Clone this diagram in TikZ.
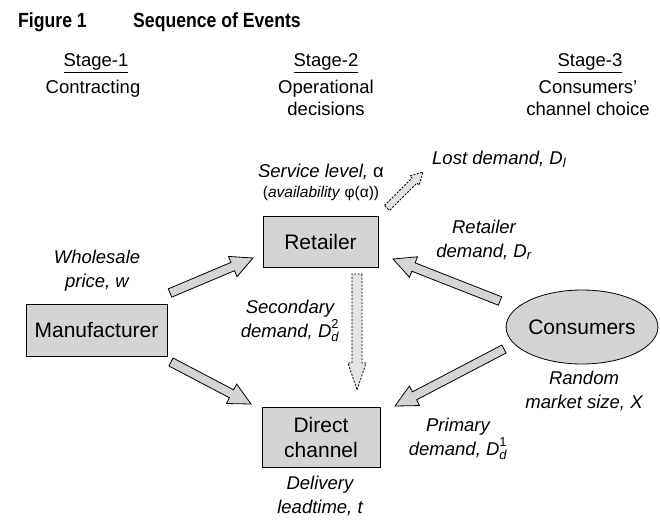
\documentclass[tikz,border=0pt]{standalone}
\usepackage{fontspec}
\usepackage{amsmath}
\setmainfont{Liberation Sans}
\newfontfamily\titlefont[FakeStretch=0.86]{Liberation Sans}
\usetikzlibrary{calc,shapes.geometric}
\definecolor{boxgray}{RGB}{212,212,212}
\definecolor{lightfill}{RGB}{228,228,228}
\newcommand{\blockarrow}[6]{%
  \coordinate (ba-h) at ($(#3)!#6!(#2)$);
  \draw[#1] ($(#2)!#4!90:(#3)$) -- ($(ba-h)!#4!90:(#3)$) -- ($(ba-h)!#5!90:(#3)$)
    -- (#3) -- ($(ba-h)!#5!-90:(#3)$) -- ($(ba-h)!#4!-90:(#3)$) -- ($(#2)!#4!-90:(#3)$) -- cycle;
}
\tikzset{
  box/.style={draw=black, fill=boxgray, line width=0.8pt, inner sep=0pt, align=center,
    font=\fontsize{21}{25}\selectfont},
  lab/.style={font=\fontsize{18.5}{23.5}\selectfont\itshape, align=center, inner sep=0pt},
  hdr/.style={font=\fontsize{18.5}{22.5}\selectfont, align=center, inner sep=0pt},
  solidarrow/.style={draw=black, fill=boxgray, line width=0.8pt, line join=miter},
  dasharrow/.style={draw=black, fill=lightfill, line width=0.8pt, dash pattern=on 2pt off 1.5pt},
}
\begin{document}
\begin{tikzpicture}[x=1pt,y=-1pt]
\useasboundingbox (0,0) rectangle (660,530);
% title
\node[anchor=base west, inner sep=0pt, font=\titlefont\bfseries\fontsize{20.5}{22}\selectfont] (fig) at (18,27) {Figure 1};
\node[anchor=base west, inner sep=0pt, font=\titlefont\bfseries\fontsize{20.5}{22}\selectfont] (title) at (133,27) {Sequence of Events};
% stage headers
\node[hdr, anchor=base] (s1) at (96,66) {\underline{Stage-1}};
\node[hdr, anchor=base] (s1t) at (93,93) {Contracting};
\node[hdr, anchor=base] (s2) at (326,66) {\underline{Stage-2}};
\node[hdr, anchor=base] (s2t) at (326,115.5) {Operational\\decisions};
\node[hdr, anchor=base] (s3) at (590,66) {\underline{Stage-3}};
\node[hdr, anchor=base] (s3t) at (588,115.5) {Consumers'\\channel choice};
% main nodes
\node[box, minimum width=141pt, minimum height=52pt] (manu) at (96.5,330) {Manufacturer};
\node[box, minimum width=115pt, minimum height=51pt] (ret) at (320.5,241.5) {Retailer};
\node[box, minimum width=118pt, minimum height=60pt] (dir) at (321,437) {Direct\\channel};
\node[ellipse, draw=black, fill=boxgray, line width=0.8pt, inner sep=0pt,
  minimum width=126pt, minimum height=74pt, font=\fontsize{21}{24}\selectfont] (cons) at (582,327) {Consumers};
% arrow end points
\coordinate (mr0) at (170,293); \coordinate (mr1) at (253,258);
\coordinate (md0) at (171,362); \coordinate (md1) at (251,404);
\coordinate (cr0) at (500,301); \coordinate (cr1) at (393,259);
\coordinate (cd0) at (504,349); \coordinate (cd1) at (395,406);
\coordinate (rd0) at (357,274); \coordinate (rd1) at (357,390);
\coordinate (rl0) at (387,208); \coordinate (rl1) at (423,172);
\blockarrow{solidarrow}{mr0}{mr1}{4.5pt}{11pt}{22pt}
\blockarrow{solidarrow}{md0}{md1}{4.5pt}{11pt}{22pt}
\blockarrow{solidarrow}{cr0}{cr1}{4.5pt}{11pt}{22pt}
\blockarrow{solidarrow}{cd0}{cd1}{4.5pt}{11pt}{22pt}
\blockarrow{dasharrow}{rd0}{rd1}{5pt}{9pt}{27pt}
\blockarrow{dasharrow}{rl0}{rl1}{3.5pt}{6.5pt}{12pt}
% labels (anchor=base is the baseline of the last line)
\node[lab, anchor=base] (lw) at (97,287) {Wholesale\\price, \textit{w}};
\node[lab, anchor=base] (lsec) at (290,337) {Secondary\\demand, $\textit{D}_{\text{\itshape d}}^{\text{\upshape 2}}$};
\node[lab, anchor=base] (lsvc) at (321,197) {Service level, {\upshape α}\\[-4pt]{\fontsize{15.5}{17}\selectfont\upshape(\textit{availability} φ(α))}};
\node[lab, anchor=base west] (llost) at (432,164) {Lost demand, $\textit{D}_{\text{\itshape l}}$};
\node[lab, anchor=base] (lret) at (484,257) {Retailer\\demand, $\textit{D}_{\text{\itshape r}}$};
\node[lab, anchor=base] (lrand) at (584,408) {Random\\market size, \textit{X}};
\node[lab, anchor=base] (lprim) at (458,455) {Primary\\demand, $\textit{D}_{\text{\itshape d}}^{\text{\upshape 1}}$};
\node[lab, anchor=base] (ldel) at (320,513) {Delivery\\leadtime, \textit{t}};
\end{tikzpicture}
\end{document}
